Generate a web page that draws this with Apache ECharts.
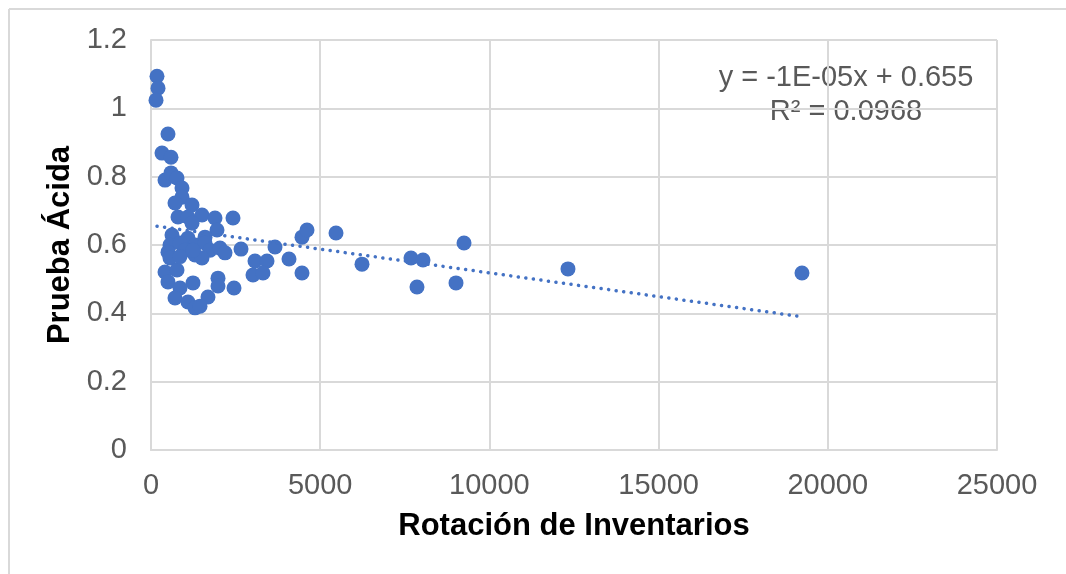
<!DOCTYPE html>
<html>
<head>
<meta charset="utf-8">
<script src="https://cdn.jsdelivr.net/npm/echarts@6/dist/echarts.min.js"></script>
<style>html,body{margin:0;padding:0;background:#fff;}#c{width:1066px;height:574px;}</style>
</head>
<body>
<div id="c"></div>
<script>
// Rotación de Inventarios (x) vs Prueba Ácida (y)
const rotacion = [177,207,148,502,325,591,414,591,768,916,916,709,1212,798,1507,1093,1212,1891,2423,1950,620,1093,1596,
  561,857,1300,1596,1744,502,1005,1300,561,1507,2039,2187,2660,414,768,502,1241,1980,1980,2453,857,709,1093,1684,1300,1448,
  857,1241,
  3073,3428,3014,3310,3664,4078,4462,4462,4610,5467,6235,7683,8038,7860,9250,9013,12322,19237];
const pruebaAcida = [1.094,1.059,1.024,0.925,0.869,0.857,0.790,0.811,0.796,0.767,0.740,0.723,0.717,0.682,0.688,0.682,0.664,0.679,0.679,0.644,0.629,0.620,0.623,
  0.600,0.606,0.600,0.606,0.585,0.579,0.585,0.571,0.562,0.562,0.591,0.577,0.588,0.521,0.527,0.492,0.489,0.503,0.480,0.474,0.474,0.445,0.433,0.448,0.416,0.421,
  0.566,0.585,
  0.553,0.553,0.512,0.518,0.594,0.559,0.518,0.623,0.644,0.635,0.544,0.562,0.556,0.477,0.606,0.489,0.530,0.518];
const trendX = [177, 19237];
const trendY = [0.655, 0.390];
const xTicks = [0, 25000, 5000];
const yTicks = [0, 1.2, 0.2];
const equation = 'y = -1E-05x + 0.655';
const rSquared = 'R² = 0.0968';

const scatterData = rotacion.map((x, i) => [x, pruebaAcida[i]]);
const trendData = trendX.map((x, i) => [x, trendY[i]]);

const chart = echarts.init(document.getElementById('c'));
const font = '"Liberation Sans", Arial, sans-serif';
const grey = '#595959';
const gridCol = '#d9d9d9';
chart.setOption({
  animation: false,
  backgroundColor: '#fff',
  textStyle: { fontFamily: font },
  grid: { left: 151, right: 69, top: 40, bottom: 124, containLabel: false },
  xAxis: {
    type: 'value', min: xTicks[0], max: xTicks[1], interval: xTicks[2],
    name: 'Rotación de Inventarios', nameLocation: 'middle', nameGap: 61,
    nameTextStyle: { fontFamily: font, fontSize: 31, fontWeight: 'bold', color: '#000' },
    axisLine: { show: true, lineStyle: { color: gridCol, width: 2 } },
    axisTick: { show: false },
    axisLabel: { fontFamily: font, fontSize: 29, color: grey, margin: 21, formatter: v => String(v) },
    splitLine: { show: true, lineStyle: { color: gridCol, width: 2 } }
  },
  yAxis: {
    type: 'value', min: yTicks[0], max: yTicks[1], interval: yTicks[2],
    name: 'Prueba Ácida', nameLocation: 'middle', nameGap: 73, nameRotate: 90,
    nameTextStyle: { fontFamily: font, fontSize: 31, fontWeight: 'bold', color: '#000' },
    axisLine: { show: true, lineStyle: { color: gridCol, width: 2 } },
    axisTick: { show: false },
    axisLabel: { fontFamily: font, fontSize: 29, color: grey, margin: 24, formatter: v => String(+v.toFixed(1)) },
    splitLine: { show: true, lineStyle: { color: gridCol, width: 2 } }
  },
  graphic: [
    { type: 'line', shape: { x1: 9, y1: 9, x2: 1066, y2: 9 }, style: { stroke: gridCol, lineWidth: 2 } },
    { type: 'line', shape: { x1: 9, y1: 9, x2: 9, y2: 574 }, style: { stroke: gridCol, lineWidth: 2 } },
    { type: 'text', style: { text: equation, x: 846, y: 78, textAlign: 'center', textVerticalAlign: 'middle', font: '29px ' + font, fill: grey } },
    { type: 'text', style: { text: rSquared, x: 846, y: 112, textAlign: 'center', textVerticalAlign: 'middle', font: '29px ' + font, fill: grey } }
  ],
  series: [
    {
      type: 'scatter', data: scatterData, symbol: 'circle', symbolSize: 15,
      itemStyle: { color: '#4472C4', opacity: 1 }, z: 3
    },
    {
      type: 'line', data: trendData, symbol: 'none', z: 4,
      lineStyle: { color: '#4472C4', width: 3.5, type: [0.1, 7.5], cap: 'round' }
    }
  ]
});
</script>
</body>
</html>
